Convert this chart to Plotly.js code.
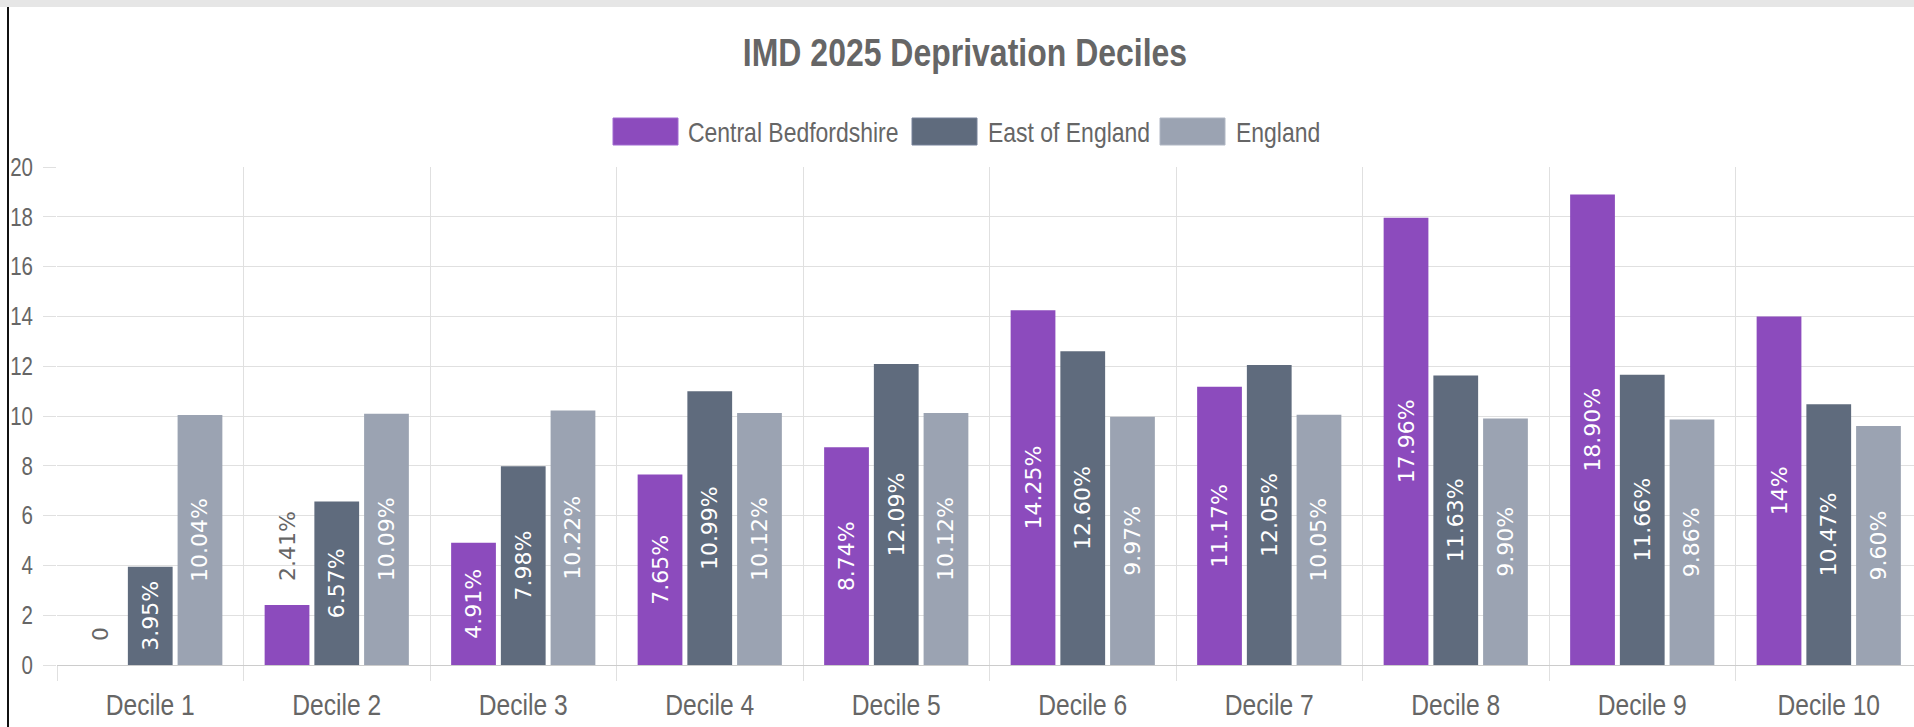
<!DOCTYPE html>
<html>
<head>
<meta charset="utf-8">
<script src="https://cdn.plot.ly/plotly-3.0.1.min.js"></script>
<style>
  html, body { margin: 0; padding: 0; background: #ffffff; overflow: hidden; width: 1914px; height: 727px; }
  #chart { position: absolute; left: 0; top: 0; width: 1930px; height: 727px; }
  #band { position: absolute; left: 0; top: 0; width: 1914px; height: 7px; background: #e6e6e6; z-index: 5; }
  #edge { position: absolute; left: 7px; top: 7px; width: 2px; height: 720px; background: #111; z-index: 5; }
</style>
</head>
<body>
<div id="band"></div>
<div id="edge"></div>
<div id="chart"></div>
<script>
// ---- Data ----
const categories = ["Decile 1","Decile 2","Decile 3","Decile 4","Decile 5","Decile 6","Decile 7","Decile 8","Decile 9","Decile 10"];
const seriesNames = ["Central Bedfordshire","East of England","England"];
const centralBeds = [0, 2.41, 4.91, 7.65, 8.74, 14.25, 11.17, 17.96, 18.90, 14];
const eastEngland = [3.95, 6.57, 7.98, 10.99, 12.09, 12.60, 12.05, 11.63, 11.66, 10.47];
const england     = [10.04, 10.09, 10.22, 10.12, 10.12, 9.97, 10.05, 9.90, 9.86, 9.60];
const centralLabels = ["0","2.41%","4.91%","7.65%","8.74%","14.25%","11.17%","17.96%","18.90%","14%"];
const eastLabels    = ["3.95%","6.57%","7.98%","10.99%","12.09%","12.60%","12.05%","11.63%","11.66%","10.47%"];
const englandLabels = ["10.04%","10.09%","10.22%","10.12%","10.12%","9.97%","10.05%","9.90%","9.86%","9.60%"];
const yTicks = [0,2,4,6,8,10,12,14,16,18,20];
const titleText = "IMD 2025 Deprivation Deciles";

// ---- Styles ----
const colors = ["#8c4bbd", "#5f6b7d", "#9ba3b2"];
const edgeColors = ["#a06ad0", "#76829a", "#b0b7c4"];
const sans = "'Liberation Sans', Arial, Helvetica, sans-serif";
const labelFont = "'DejaVu Sans', Verdana, sans-serif";
const CONDENSE = 0.82;
const OUTSIDE_GAP = "\u00a0\u00a0\u00a0"; // offset of labels drawn above their bar
const W = 1930, H = 727, ML = 57, MR = 8, MT = 167, MB = 62;
const PW = W - ML - MR, PH = H - MT - MB;
const px = x => (x - ML) / PW;
const py = y => (H - MB - y) / PH;

const valueSets = [centralBeds, eastEngland, england];
const labelSets = [centralLabels, eastLabels, englandLabels];
// labels that do not fit inside their bar are drawn above it
const textPositions = [
  ["outside","outside","inside","inside","inside","inside","inside","inside","inside","inside"],
  Array(10).fill("inside"),
  Array(10).fill("inside")
];

const traces = valueSets.map((vals, i) => ({
  type: "bar",
  name: seriesNames[i],
  x: categories,
  y: vals,
  text: labelSets[i].map((t, j) => textPositions[i][j] === "outside" ? OUTSIDE_GAP + t : t),
  textposition: textPositions[i],
  textangle: -90,
  insidetextanchor: "middle",
  constraintext: "none",
  cliponaxis: false,
  insidetextfont: { family: labelFont, size: 22, color: "#ffffff" },
  outsidetextfont: { family: labelFont, size: 22, color: "#666666" },
  marker: { color: colors[i], line: { width: 0 } },
  hoverinfo: "x+y+name",
  showlegend: false
}));

// custom legend (large swatches like the reference)
const legendItems = [
  { box: [613, 678], textX: 686 },
  { box: [912, 977], textX: 986 },
  { box: [1160, 1225], textX: 1234 }
];
const shapes = legendItems.map((it, i) => ({
  type: "rect", xref: "paper", yref: "paper",
  x0: px(it.box[0]), x1: px(it.box[1]), y0: py(145), y1: py(118),
  fillcolor: colors[i], line: { color: edgeColors[i], width: 1 }
}));
const annotations = legendItems.map((it, i) => ({
  xref: "paper", yref: "paper", x: px(it.textX), y: py(132),
  xanchor: "left", yanchor: "middle", align: "left", showarrow: false,
  text: seriesNames[i], font: { family: sans, size: 28, color: "#666666" }
}));

const layout = {
  width: W, height: H,
  margin: { l: ML, r: MR, t: MT, b: MB, pad: 0 },
  paper_bgcolor: "#ffffff", plot_bgcolor: "#ffffff",
  title: {
    text: "<b>" + titleText + "</b>",
    font: { family: sans, size: 39, color: "#666666" },
    x: 965 / W, xref: "container", xanchor: "center",
    y: 1 - 52 / H, yref: "container", yanchor: "middle"
  },
  barmode: "group", bargap: 0.2, bargroupgap: 0.1,
  showlegend: false,
  xaxis: {
    type: "category", tickson: "boundaries",
    showgrid: true, gridcolor: "#e0e0e0", gridwidth: 1,
    ticks: "outside", ticklen: 15, tickcolor: "#e0e0e0", tickwidth: 1,
    tickfont: { family: sans, size: 30, color: "#666666" },
    ticklabelstandoff: 19,
    showline: false, zeroline: false, fixedrange: true
  },
  yaxis: {
    range: [0, 20], tickvals: yTicks, ticktext: yTicks.map(String),
    showgrid: true, gridcolor: "#e0e0e0", gridwidth: 1,
    ticks: "outside", ticklen: 13, tickcolor: "#e0e0e0", tickwidth: 1,
    tickfont: { family: sans, size: 25, color: "#666666" },
    ticklabelstandoff: 5,
    zeroline: true, zerolinecolor: "#cccccc", zerolinewidth: 1,
    showline: false, fixedrange: true
  },
  shapes: shapes,
  annotations: annotations
};

// condensed look of the reference's horizontal text (narrow Helvetica)
function condense(selector, k) {
  document.querySelectorAll(selector).forEach(t => {
    const x = parseFloat(t.getAttribute("x")) || 0;
    const tr = t.getAttribute("transform") || "";
    t.setAttribute("transform", tr + " translate(" + x + ",0) scale(" + k + ",1) translate(" + (-x) + ",0)");
  });
}

Plotly.newPlot("chart", traces, layout, { displayModeBar: false, staticPlot: true }).then(() => {
  condense("#chart .xtick text", CONDENSE);
  condense("#chart .ytick text", CONDENSE);
  condense("#chart .gtitle", CONDENSE);
  condense("#chart .annotation-text", CONDENSE);
});
</script>
</body>
</html>
